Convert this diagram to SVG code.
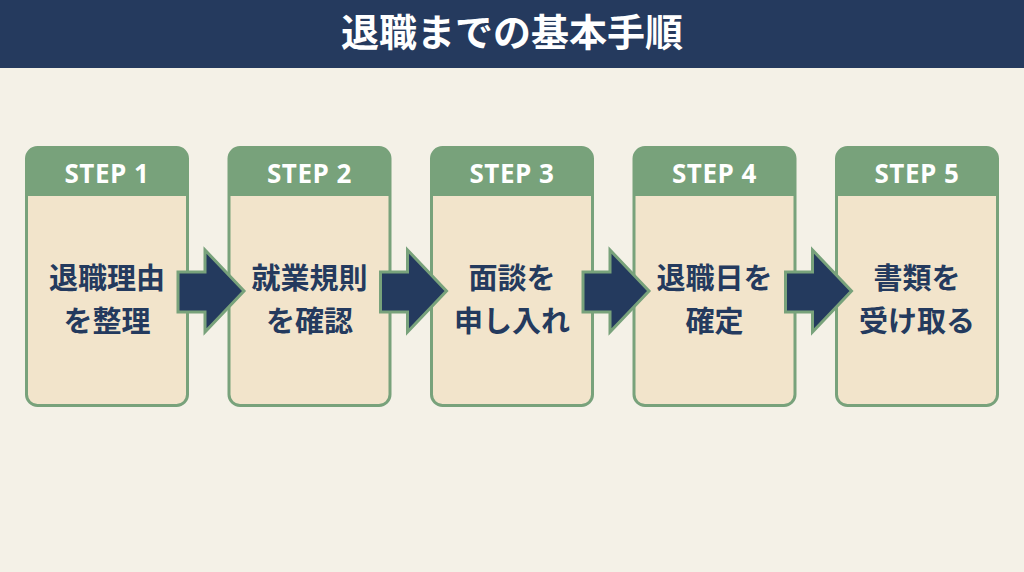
<svg xmlns="http://www.w3.org/2000/svg" width="1024" height="572" viewBox="0 0 1024 572">
  <defs>
    <style>
      .title { font-family: "Noto Sans CJK JP", "Noto Sans", sans-serif; font-weight: 700; font-size: 38px; fill: #ffffff; }
      .box { fill: #f2e4cb; stroke: #78a27b; stroke-width: 3; }
      .head { fill: #78a27b; }
      .step { font-family: "Open Sans", "Noto Sans", sans-serif; font-weight: 700; font-size: 26px; letter-spacing: 0.5px; fill: #ffffff; }
      .label { font-family: "Noto Sans CJK JP", sans-serif; font-weight: 700; font-size: 29px; fill: #243a5e; }
      .arrow { fill: #243a5e; stroke: #78a27b; stroke-width: 3; stroke-linejoin: miter; }
    </style>
  </defs>
  <rect x="0" y="0" width="1024" height="572" fill="#f4f1e7"/>
  <rect x="0" y="0" width="1024" height="68" fill="#253a5e"/>
  <text class="title" x="512" y="46" text-anchor="middle">退職までの基本手順</text>

  <g id="step1">
    <rect class="box" x="26.5" y="147.5" width="161" height="258" rx="11"/>
    <path class="head" d="M26.5 196 V158.5 A11 11 0 0 1 37.5 147.5 H176.5 A11 11 0 0 1 187.5 158.5 V196 Z"/>
    <text class="step" x="107" y="183" text-anchor="middle">STEP 1</text>
    <text class="label" x="107" y="289" text-anchor="middle">退職理由</text>
    <text class="label" x="107" y="332" text-anchor="middle">を整理</text>
  </g>
  <g id="step2">
    <rect class="box" x="229" y="147.5" width="161" height="258" rx="11"/>
    <path class="head" d="M229 196 V158.5 A11 11 0 0 1 240 147.5 H379 A11 11 0 0 1 390 158.5 V196 Z"/>
    <text class="step" x="309.5" y="183" text-anchor="middle">STEP 2</text>
    <text class="label" x="309.5" y="289" text-anchor="middle">就業規則</text>
    <text class="label" x="309.5" y="332" text-anchor="middle">を確認</text>
  </g>
  <g id="step3">
    <rect class="box" x="431.5" y="147.5" width="161" height="258" rx="11"/>
    <path class="head" d="M431.5 196 V158.5 A11 11 0 0 1 442.5 147.5 H581.5 A11 11 0 0 1 592.5 158.5 V196 Z"/>
    <text class="step" x="512" y="183" text-anchor="middle">STEP 3</text>
    <text class="label" x="512" y="289" text-anchor="middle">面談を</text>
    <text class="label" x="512" y="332" text-anchor="middle">申し入れ</text>
  </g>
  <g id="step4">
    <rect class="box" x="634" y="147.5" width="161" height="258" rx="11"/>
    <path class="head" d="M634 196 V158.5 A11 11 0 0 1 645 147.5 H784 A11 11 0 0 1 795 158.5 V196 Z"/>
    <text class="step" x="714.5" y="183" text-anchor="middle">STEP 4</text>
    <text class="label" x="714.5" y="289" text-anchor="middle">退職日を</text>
    <text class="label" x="714.5" y="332" text-anchor="middle">確定</text>
  </g>
  <g id="step5">
    <rect class="box" x="836.5" y="147.5" width="161" height="258" rx="11"/>
    <path class="head" d="M836.5 196 V158.5 A11 11 0 0 1 847.5 147.5 H986.5 A11 11 0 0 1 997.5 158.5 V196 Z"/>
    <text class="step" x="917" y="183" text-anchor="middle">STEP 5</text>
    <text class="label" x="917" y="289" text-anchor="middle">書類を</text>
    <text class="label" x="917" y="332" text-anchor="middle">受け取る</text>
  </g>

  <g id="connectors">
    <path class="arrow" d="M178 272 H205 V250 L244 291 L205 332 V312 H178 Z"/>
    <path class="arrow" d="M380.5 272 H407.5 V250 L446.5 291 L407.5 332 V312 H380.5 Z"/>
    <path class="arrow" d="M583 272 H610 V250 L649 291 L610 332 V312 H583 Z"/>
    <path class="arrow" d="M785.5 272 H812.5 V250 L851.5 291 L812.5 332 V312 H785.5 Z"/>
  </g>
</svg>
